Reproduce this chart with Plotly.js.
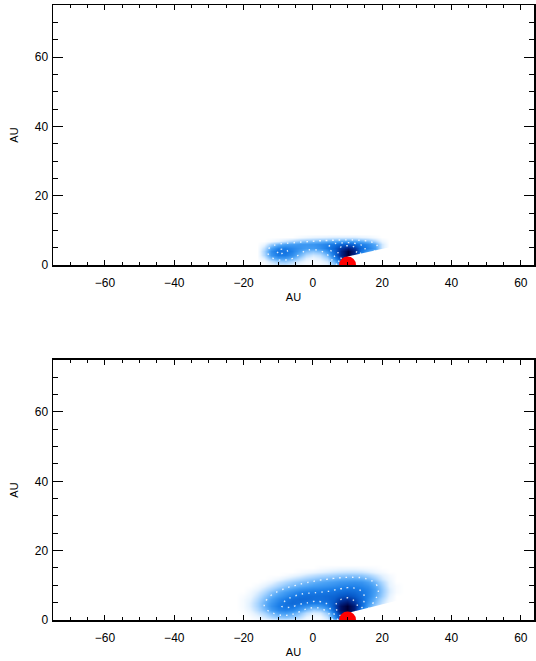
<!DOCTYPE html>
<html>
<head>
<meta charset="utf-8">
<script src="https://cdn.plot.ly/plotly-3.0.1.min.js"></script>
<style>html,body{margin:0;padding:0;background:#fff;}#chart{width:536px;height:661px;}</style>
</head>
<body>
<div id="chart"></div>
<script>
// ---- data ----
// top panel density grid (rows = y, cols = x)
const xTop = [-16,-14,-12,-10,-8,-6,-4,-2,0,2,4,6,8,10,12,14,16,18,20,22];
const yTop = [0,1,2,3,4,5,6,7,8,9];
const zTop = [
  [0,0,0.05,0.1,0.12,0.08,0.04,0.02,0.01,0.02,0.06,0.2,0.45,0.6,0.25,0.05,0,0,0,0],
  [0,0.04,0.15,0.24,0.26,0.2,0.12,0.05,0.03,0.05,0.12,0.32,0.6,0.75,0.4,0.15,0.1,0,0,0],
  [0,0.1,0.3,0.4,0.4,0.34,0.22,0.1,0.06,0.1,0.2,0.45,0.75,0.9,0.6,0.3,0.2,0.1,0,0],
  [0,0.18,0.42,0.52,0.52,0.45,0.32,0.18,0.12,0.16,0.3,0.55,0.85,1.0,0.8,0.45,0.3,0.2,0,0],
  [0,0.2,0.45,0.56,0.56,0.5,0.4,0.3,0.26,0.3,0.42,0.6,0.85,1.0,0.85,0.55,0.4,0.3,0.05,0],
  [0,0.15,0.38,0.5,0.52,0.48,0.44,0.4,0.4,0.44,0.52,0.62,0.78,0.88,0.78,0.6,0.5,0.4,0.12,0],
  [0,0.06,0.22,0.32,0.38,0.4,0.42,0.42,0.43,0.46,0.5,0.55,0.62,0.66,0.6,0.52,0.46,0.36,0.12,0],
  [0,0,0.04,0.08,0.14,0.2,0.25,0.28,0.3,0.32,0.34,0.36,0.38,0.4,0.38,0.35,0.3,0.2,0.06,0],
  [0,0,0,0,0,0,0.03,0.05,0.07,0.08,0.09,0.1,0.1,0.1,0.1,0.08,0.06,0.03,0,0],
  [0,0,0,0,0,0,0,0,0,0,0,0,0,0,0,0,0,0,0,0]
];
// bottom panel density grid
const xBot = [-22,-20,-18,-16,-14,-12,-10,-8,-6,-4,-2,0,2,4,6,8,10,12,14,16,18,20,22,24,26];
const yBot = [0,1,2,3,4,5,6,7,8,9,10,11,12,13,14,15,16];
const zBot = [
  [0,0,0,0.03,0.06,0.1,0.14,0.16,0.14,0.1,0.04,0.02,0.03,0.1,0.35,0.65,0.8,0.6,0.2,0.05,0,0,0,0,0],
  [0,0,0.02,0.06,0.12,0.2,0.26,0.28,0.25,0.18,0.08,0.04,0.05,0.15,0.45,0.75,0.9,0.7,0.3,0.1,0,0,0,0,0],
  [0,0.01,0.05,0.12,0.2,0.3,0.38,0.4,0.36,0.28,0.16,0.1,0.12,0.25,0.55,0.85,0.95,0.8,0.4,0.2,0.05,0,0,0,0],
  [0,0.02,0.08,0.17,0.28,0.4,0.48,0.5,0.48,0.4,0.3,0.22,0.25,0.38,0.65,0.92,1.0,0.88,0.5,0.3,0.12,0.03,0,0,0],
  [0,0.03,0.1,0.2,0.32,0.44,0.52,0.56,0.56,0.5,0.45,0.4,0.42,0.5,0.7,0.92,1.0,0.88,0.6,0.38,0.22,0.08,0,0,0],
  [0,0.03,0.1,0.2,0.32,0.42,0.5,0.56,0.6,0.58,0.55,0.52,0.52,0.56,0.68,0.85,0.92,0.8,0.6,0.42,0.28,0.14,0.03,0,0],
  [0,0.03,0.08,0.17,0.28,0.38,0.46,0.52,0.58,0.6,0.6,0.58,0.58,0.6,0.65,0.75,0.8,0.72,0.6,0.46,0.32,0.18,0.06,0,0],
  [0,0.02,0.06,0.14,0.24,0.33,0.4,0.46,0.52,0.56,0.58,0.58,0.58,0.6,0.62,0.67,0.7,0.66,0.58,0.48,0.36,0.22,0.08,0,0],
  [0,0,0.04,0.1,0.18,0.27,0.34,0.4,0.45,0.5,0.52,0.53,0.54,0.55,0.57,0.6,0.62,0.6,0.55,0.48,0.38,0.24,0.1,0.02,0],
  [0,0,0.02,0.06,0.13,0.2,0.27,0.33,0.38,0.42,0.45,0.47,0.48,0.5,0.52,0.54,0.56,0.55,0.52,0.47,0.38,0.24,0.1,0.02,0],
  [0,0,0,0.03,0.08,0.14,0.2,0.26,0.3,0.34,0.37,0.4,0.42,0.44,0.46,0.48,0.5,0.5,0.48,0.44,0.35,0.22,0.08,0.02,0],
  [0,0,0,0,0.03,0.07,0.13,0.18,0.23,0.27,0.3,0.33,0.36,0.38,0.4,0.42,0.43,0.44,0.43,0.38,0.3,0.18,0.07,0,0],
  [0,0,0,0,0,0.02,0.05,0.1,0.14,0.18,0.22,0.25,0.28,0.3,0.32,0.34,0.35,0.35,0.34,0.3,0.22,0.12,0.05,0,0],
  [0,0,0,0,0,0,0,0.02,0.05,0.08,0.12,0.15,0.18,0.2,0.22,0.24,0.25,0.25,0.24,0.2,0.14,0.08,0.03,0,0],
  [0,0,0,0,0,0,0,0,0,0.02,0.04,0.06,0.08,0.1,0.12,0.13,0.14,0.14,0.13,0.1,0.06,0.03,0,0,0],
  [0,0,0,0,0,0,0,0,0,0,0,0,0.02,0.03,0.04,0.05,0.05,0.05,0.04,0.03,0.02,0,0,0,0],
  [0,0,0,0,0,0,0,0,0,0,0,0,0,0,0,0,0,0,0,0,0,0,0,0,0]
];
// star position (AU)
const starX = [10];
const starY = [0];
// shadow wedge behind the star (AU)
const shadowTopX = [10, 30, 30, 10];
const shadowTopY = [2.45, 6.85, 0, 0];
const shadowBotX = [10, 30, 30, 10];
const shadowBotY = [2.0, 7.0, 0, 0];
// contour levels
const contourLevels = {start: 0.32, end: 0.8, size: 0.22};

// ---- styling ----
const cscale = [
  [0, '#ffffff'], [0.08, '#e6f3ff'], [0.22, '#9fd0ff'], [0.38, '#4aa2f6'],
  [0.52, '#1a7de8'], [0.66, '#085ccc'], [0.8, '#03339c'], [0.92, '#001468'], [1, '#000038']
];

function panel(xa, ya, x, y, z, sx, sy) {
  return [
    {type: 'heatmap', x: x, y: y, z: z, zmin: 0, zmax: 1, zsmooth: 'best',
     colorscale: cscale, showscale: false, hoverinfo: 'skip', xaxis: xa, yaxis: ya},
    {type: 'contour', x: x, y: y, z: z, showscale: false, hoverinfo: 'skip',
     contours: {coloring: 'none', start: contourLevels.start, end: contourLevels.end, size: contourLevels.size},
     line: {color: 'rgba(255,255,255,0.85)', width: 1.4, dash: '1.5px,5px', smoothing: 1.3},
     xaxis: xa, yaxis: ya},
    {type: 'scatter', mode: 'lines', x: sx, y: sy, fill: 'toself', fillcolor: '#ffffff',
     line: {width: 0, color: '#ffffff'}, hoverinfo: 'skip', xaxis: xa, yaxis: ya},
    {type: 'scatter', mode: 'markers', x: starX, y: starY, cliponaxis: true,
     marker: {size: 17, color: '#ff0000', line: {width: 0}}, hoverinfo: 'skip', xaxis: xa, yaxis: ya}
  ];
}

const data = [].concat(
  panel('x', 'y', xTop, yTop, zTop, shadowTopX, shadowTopY),
  panel('x2', 'y2', xBot, yBot, zBot, shadowBotX, shadowBotY)
);

const tickFont = {family: 'Liberation Sans, Arial, sans-serif', size: 12, color: '#000'};
const titleFont = {family: 'Liberation Sans, Arial, sans-serif', size: 11, color: '#000'};

function xax(anchor) {
  return {
    anchor: anchor, domain: [0, 1], range: [-75, 63.8], tick0: 0, dtick: 20,
    ticks: 'inside', ticklen: 5, tickwidth: 1, tickcolor: '#000', ticklabelstandoff: 6,
    minor: {ticks: 'inside', dtick: 5, ticklen: 3, tickwidth: 1, tickcolor: '#000'},
    showline: true, linecolor: '#000', linewidth: 1.5, mirror: 'allticks',
    showgrid: false, zeroline: false, tickfont: tickFont,
    title: {text: 'AU', font: titleFont, standoff: 4}
  };
}
function yax(anchor, domain) {
  return {
    anchor: anchor, domain: domain, range: [0, 75], tick0: 0, dtick: 20,
    ticks: 'inside', ticklen: 10, tickwidth: 1, tickcolor: '#000', ticklabelstandoff: 1,
    minor: {ticks: 'inside', dtick: 5, ticklen: 5, tickwidth: 1, tickcolor: '#000'},
    showline: true, linecolor: '#000', linewidth: 1.5, mirror: 'allticks',
    showgrid: false, zeroline: false, tickfont: tickFont,
    title: {text: 'AU', font: titleFont, standoff: 14}
  };
}

const layout = {
  width: 536, height: 661,
  margin: {l: 53, r: 2, t: 5, b: 41},
  paper_bgcolor: '#ffffff', plot_bgcolor: '#ffffff',
  showlegend: false,
  xaxis: xax('y'),
  yaxis: yax('x', [0.5772, 1]),
  xaxis2: xax('y2'),
  yaxis2: yax('x2', [0, 0.4228])
};

Plotly.newPlot('chart', data, layout, {staticPlot: true, displayModeBar: false});
</script>
</body>
</html>
